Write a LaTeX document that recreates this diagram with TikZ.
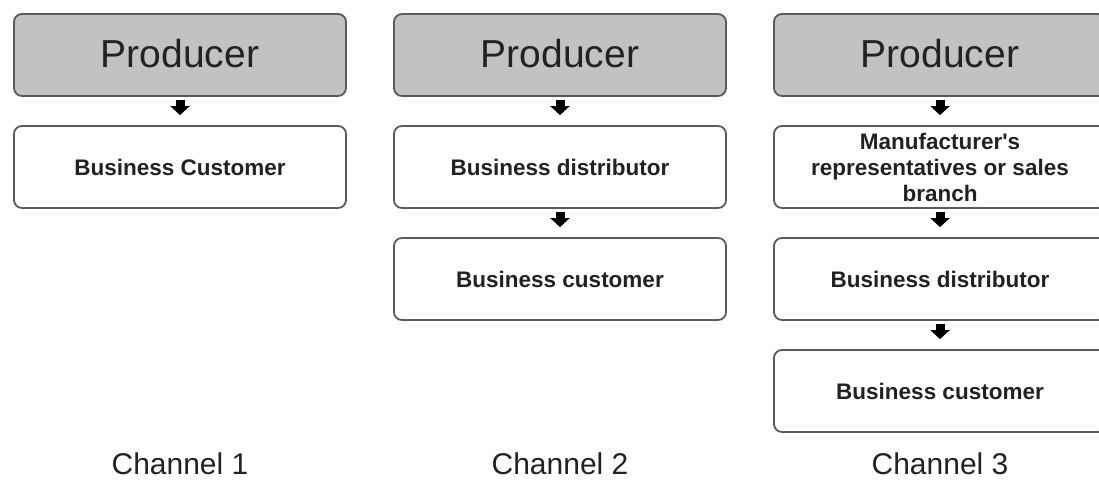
\documentclass[tikz,border=0pt]{standalone}
\usepackage{fontspec}
\setmainfont{Liberation Sans}[Ligatures=TeXOff]
\usetikzlibrary{arrows.meta}
\definecolor{boxline}{HTML}{5A5A5A}
\definecolor{prodfill}{HTML}{C2C2C2}
\definecolor{txt}{HTML}{222222}
\tikzset{
  box/.style={rectangle, rounded corners=8pt, draw=boxline, line width=1.8pt,
    minimum width=332pt, minimum height=82pt, inner sep=0pt, fill=white,
    text=txt, align=center, font=\fontsize{22.5}{26}\selectfont\bfseries},
  prodbox/.style={box, fill=prodfill, font=\fontsize{39}{44}\selectfont\mdseries},
  flow/.style={line width=9pt, black, -{Triangle[width=19pt,length=9pt]},
    shorten <=3pt, shorten >=10pt},
  chlabel/.style={text=txt, font=\fontsize{30}{34}\selectfont}
}
\begin{document}
\begin{tikzpicture}[x=1pt,y=-1pt]
\clip (0,0) rectangle (1099,479);
\fill[white] (0,0) rectangle (1099,479);
% Channel 1
\node[prodbox] (p1) at (180,55) {\raisebox{4pt}{Producer}};
\node[box] (c1) at (180,167) {Business Customer};
% Channel 2
\node[prodbox] (p2) at (560,55) {\raisebox{4pt}{Producer}};
\node[box] (d2) at (560,167) {Business distributor};
\node[box] (c2) at (560,279) {Business customer};
% Channel 3
\node[prodbox] (p3) at (940,55) {\raisebox{4pt}{Producer}};
\node[box] (m3) at (940,167) {Manufacturer's\\representatives or sales\\branch};
\node[box] (d3) at (940,279) {Business distributor};
\node[box] (c3) at (940,391) {Business customer};
% arrows
\draw[flow] (p1.south) -- (c1.north);
\draw[flow] (p2.south) -- (d2.north);
\draw[flow] (d2.south) -- (c2.north);
\draw[flow] (p3.south) -- (m3.north);
\draw[flow] (m3.south) -- (d3.north);
\draw[flow] (d3.south) -- (c3.north);
% labels
\node[chlabel] (l1) at (180,464) {Channel 1};
\node[chlabel] (l2) at (560,464) {Channel 2};
\node[chlabel] (l3) at (940,464) {Channel 3};
\end{tikzpicture}
\end{document}
